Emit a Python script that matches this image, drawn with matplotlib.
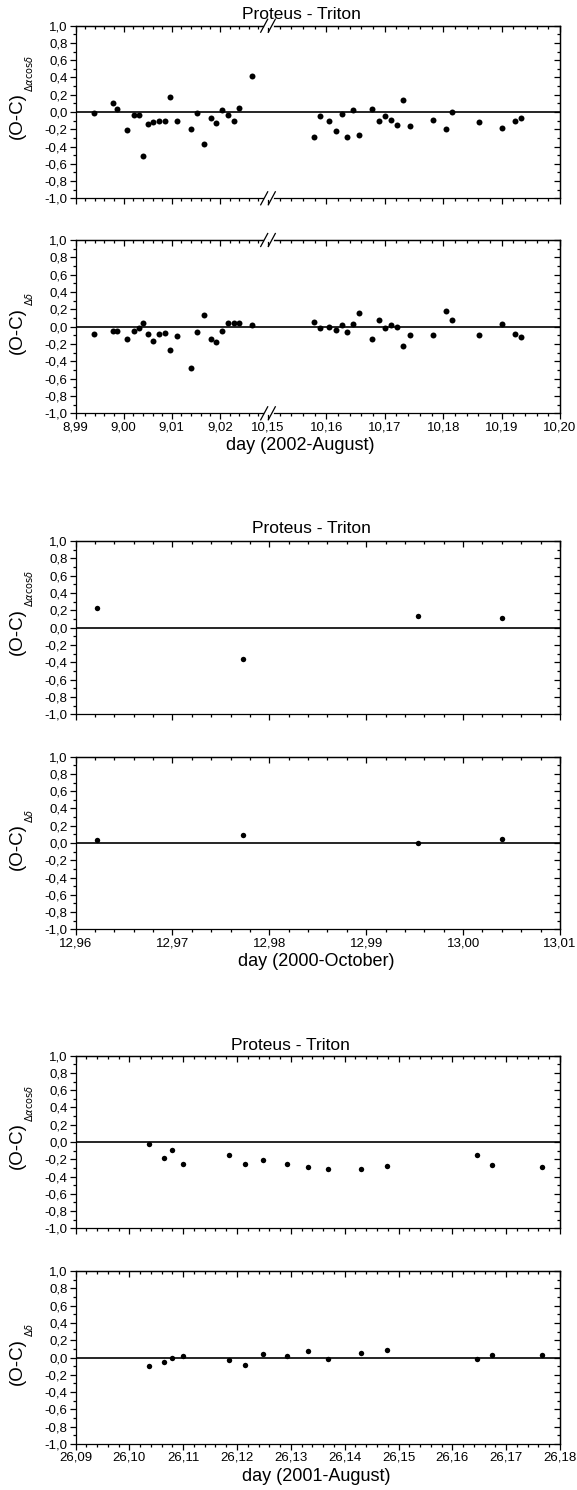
import numpy as np
import matplotlib.pyplot as plt
from matplotlib.ticker import MultipleLocator, FixedLocator, FuncFormatter
from matplotlib.lines import Line2D

plt.rcParams['font.family'] = ['Liberation Sans', 'DejaVu Sans']
plt.rcParams['mathtext.fontset'] = 'dejavusans'

# 2002 August (broken axis 8.99-9.03 // 10.15-10.20)
day_aug02 = [8.9939, 8.9977, 8.9986, 9.0007, 9.0021, 9.0032, 9.0041, 9.0051, 9.0062,
             9.0074, 9.0086, 9.0097, 9.0111, 9.0139, 9.0153, 9.0167, 9.0181, 9.0192,
             9.0204, 9.0216, 9.0229, 9.0239, 9.0266,
             10.1578, 10.1589, 10.1604, 10.1616, 10.1626, 10.1635, 10.1645, 10.1656,
             10.1678, 10.1690, 10.1700, 10.1710, 10.1721, 10.1732, 10.1744, 10.1782,
             10.1805, 10.1815, 10.1862, 10.1900, 10.1923, 10.1934]
ra_aug02 = [-0.01, 0.11, 0.04, -0.21, -0.04, -0.04, -0.51, -0.14, -0.12,
            -0.10, -0.10, 0.17, -0.10, -0.20, -0.01, -0.37, -0.07, -0.13,
            0.02, -0.03, -0.10, 0.05, 0.42,
            -0.29, -0.05, -0.10, -0.22, -0.02, -0.29, 0.02, -0.27,
            0.03, -0.11, -0.05, -0.09, -0.15, 0.14, -0.16, -0.09,
            -0.20, 0.00, -0.12, -0.18, -0.10, -0.07]
dec_aug02 = [-0.09, -0.05, -0.05, -0.14, -0.05, -0.01, 0.04, -0.09, -0.17,
             -0.09, -0.07, -0.27, -0.11, -0.48, -0.06, 0.13, -0.14, -0.18,
             -0.05, 0.04, 0.04, 0.04, 0.02,
             0.05, -0.02, 0.00, -0.04, 0.02, -0.06, 0.03, 0.16,
             -0.14, 0.08, -0.02, 0.02, 0.00, -0.22, -0.10, -0.10,
             0.18, 0.08, -0.10, 0.03, -0.08, -0.12]

# 2000 October
day_oct00 = [12.9622, 12.9773, 12.9953, 13.0040]
ra_oct00 = [0.23, -0.36, 0.14, 0.11]
dec_oct00 = [0.04, 0.09, 0.00, 0.05]

# 2001 August
day_aug01 = [26.1037, 26.1065, 26.1080, 26.1099, 26.1185, 26.1214, 26.1249, 26.1292,
             26.1331, 26.1369, 26.1431, 26.1479, 26.1645, 26.1674, 26.1767]
ra_aug01 = [-0.02, -0.19, -0.09, -0.26, -0.15, -0.26, -0.21, -0.25,
            -0.29, -0.31, -0.31, -0.28, -0.15, -0.27, -0.29]
dec_aug01 = [-0.10, -0.05, 0.00, 0.02, -0.03, -0.09, 0.04, 0.02,
             0.08, -0.02, 0.05, 0.09, -0.02, 0.03, 0.03]

W, H = 577, 1490
fig = plt.figure(figsize=(W / 100, H / 100), dpi=100)

L, R = 75.5, 560.0
BRK = 268.0


def fx(px):
    return px / W


def fy(py):
    return 1 - py / H


yfmt = FuncFormatter(lambda v, p: f'{v:.1f}'.replace('.', ','))
xfmt = FuncFormatter(lambda v, p: f'{v:.2f}'.replace('.', ','))


def make_ax(x0, x1, top, bot):
    return fig.add_axes([fx(x0), fy(bot), fx(x1) - fx(x0), (bot - top) / H])


def style(ax, xmaj, xmin, xlim, left=True, right=True, labels=True):
    ax.set_xlim(*xlim)
    ax.set_ylim(-1, 1)
    ax.xaxis.set_major_locator(FixedLocator(xmaj))
    ax.xaxis.set_minor_locator(FixedLocator(xmin))
    ax.yaxis.set_major_locator(MultipleLocator(0.2))
    ax.yaxis.set_minor_locator(MultipleLocator(0.1))
    ax.xaxis.set_major_formatter(xfmt)
    ax.yaxis.set_major_formatter(yfmt)
    ax.tick_params(which='both', direction='out', top=False, right=False,
                   labelsize=9.5, width=0.9, pad=1.2)
    ax.tick_params(which='major', length=4.5)
    ax.tick_params(which='minor', length=2.5)
    if not labels:
        ax.tick_params(labelbottom=False)
    if not left:
        ax.tick_params(axis='y', which='both', left=False, labelleft=False)
        ax.spines['left'].set_visible(False)
    for s in ax.spines.values():
        s.set_linewidth(0.9)
    # mirrored ticks pointing inside on top / right
    sx = ax.secondary_xaxis('top')
    sx.xaxis.set_major_locator(FixedLocator(xmaj))
    sx.xaxis.set_minor_locator(FixedLocator(xmin))
    sx.tick_params(which='both', direction='in', labeltop=False, width=0.9)
    sx.tick_params(which='major', length=4.5)
    sx.tick_params(which='minor', length=2.5)
    sx.spines['top'].set_linewidth(0.9)
    if right:
        sy = ax.secondary_yaxis('right')
        sy.yaxis.set_major_locator(MultipleLocator(0.2))
        sy.yaxis.set_minor_locator(MultipleLocator(0.1))
        sy.tick_params(which='both', direction='in', labelright=False, width=0.9)
        sy.tick_params(which='major', length=4.5)
        sy.tick_params(which='minor', length=2.5)
        sy.spines['right'].set_linewidth(0.9)
    else:
        ax.spines['right'].set_visible(False)
    ax.axhline(0, color='k', lw=1.2, zorder=1)


def ylab(top, bot, sub):
    yc = (top + bot) / 2
    t = fig.text(fx(17.5), fy(yc + 4), '(O-C)', rotation=90, ha='center', va='center',
                 fontsize=13.5)
    fig.canvas.draw()
    bb = t.get_window_extent()
    fig.text(bb.x1 / W + fx(3), bb.y1 / H + 1 / H, sub, rotation=90, ha='center', va='bottom',
             fontsize=7)


def brk_marks(top, bot):
    for y in (top, bot):
        fig.add_artist(Line2D([fx(BRK - 3.5), fx(BRK + 3.5)], [fy(y), fy(y)],
                              color='white', lw=2.0))
        for xc in (BRK - 3.8, BRK + 3.8):
            fig.add_artist(Line2D([fx(xc - 3.5), fx(xc + 3.5)], [fy(y + 6.5), fy(y - 6.5)],
                                  color='k', lw=0.9))


ms_big, ms_small = 4.3, 3.9
sub_ra = r'$\Delta\alpha\mathrm{cos}\delta$'
sub_dec = r'$\Delta\delta$'

# ---- panel group 1: 2002 August, broken x axis
d = np.array(day_aug02)
lm = d < 9.1
rm = ~lm
left_maj = [8.99, 9.00, 9.01, 9.02]
left_min = list(np.round(np.arange(8.99, 9.0285, 0.002), 4))
right_maj = [10.15, 10.16, 10.17, 10.18, 10.19, 10.20]
right_min = list(np.round(np.arange(10.15, 10.2005, 0.002), 4))

for (top, bot), vals, sub, lab in (((25.7, 198.3), ra_aug02, sub_ra, False),
                                   ((240.0, 413.3), dec_aug02, sub_dec, True)):
    v = np.array(vals)
    axl = make_ax(L, BRK, top, bot)
    axr = make_ax(BRK, R, top, bot)
    style(axl, left_maj, left_min, (8.99, 9.03), right=False, labels=lab)
    style(axr, right_maj, right_min, (10.15, 10.20), left=False, labels=lab)
    axl.plot(d[lm], v[lm], 'o', color='k', ms=ms_big, mew=0)
    axr.plot(d[rm], v[rm], 'o', color='k', ms=ms_big, mew=0)
    brk_marks(top, bot)
    ylab(top, bot, sub)
fig.text(fx(301), fy(14.5), 'Proteus - Triton', ha='center', va='center', fontsize=12.5)
fig.text(fx(300), fy(445.5), 'day (2002-August)', ha='center', va='center', fontsize=13)

# ---- panel group 2: 2000 October
oct_maj = [12.96, 12.97, 12.98, 12.99, 13.00, 13.01]
oct_min = list(np.round(np.arange(12.96, 13.0105, 0.002), 4))
for (top, bot), vals, sub, lab in (((541.0, 714.3), ra_oct00, sub_ra, False),
                                   ((756.7, 929.3), dec_oct00, sub_dec, True)):
    ax = make_ax(L, R, top, bot)
    style(ax, oct_maj, oct_min, (12.96, 13.01), labels=lab)
    ax.plot(day_oct00, vals, 'o', color='k', ms=ms_small, mew=0)
    ylab(top, bot, sub)
fig.text(fx(311), fy(529), 'Proteus - Triton', ha='center', va='center', fontsize=12.5)
fig.text(fx(316), fy(961.5), 'day (2000-October)', ha='center', va='center', fontsize=13)

# ---- panel group 3: 2001 August
a01_maj = list(np.round(np.arange(26.09, 26.1805, 0.01), 2))
a01_min = list(np.round(np.arange(26.09, 26.1805, 0.002), 4))
for (top, bot), vals, sub, lab in (((1055.7, 1228.3), ra_aug01, sub_ra, False),
                                   ((1271.0, 1444.0), dec_aug01, sub_dec, True)):
    ax = make_ax(L, R, top, bot)
    style(ax, a01_maj, a01_min, (26.09, 26.18), labels=lab)
    ax.plot(day_aug01, vals, 'o', color='k', ms=ms_small, mew=0)
    ylab(top, bot, sub)
fig.text(fx(290), fy(1045), 'Proteus - Triton', ha='center', va='center', fontsize=12.5)
fig.text(fx(316), fy(1476.5), 'day (2001-August)', ha='center', va='center', fontsize=13)

fig.savefig('out.png', dpi=100)
